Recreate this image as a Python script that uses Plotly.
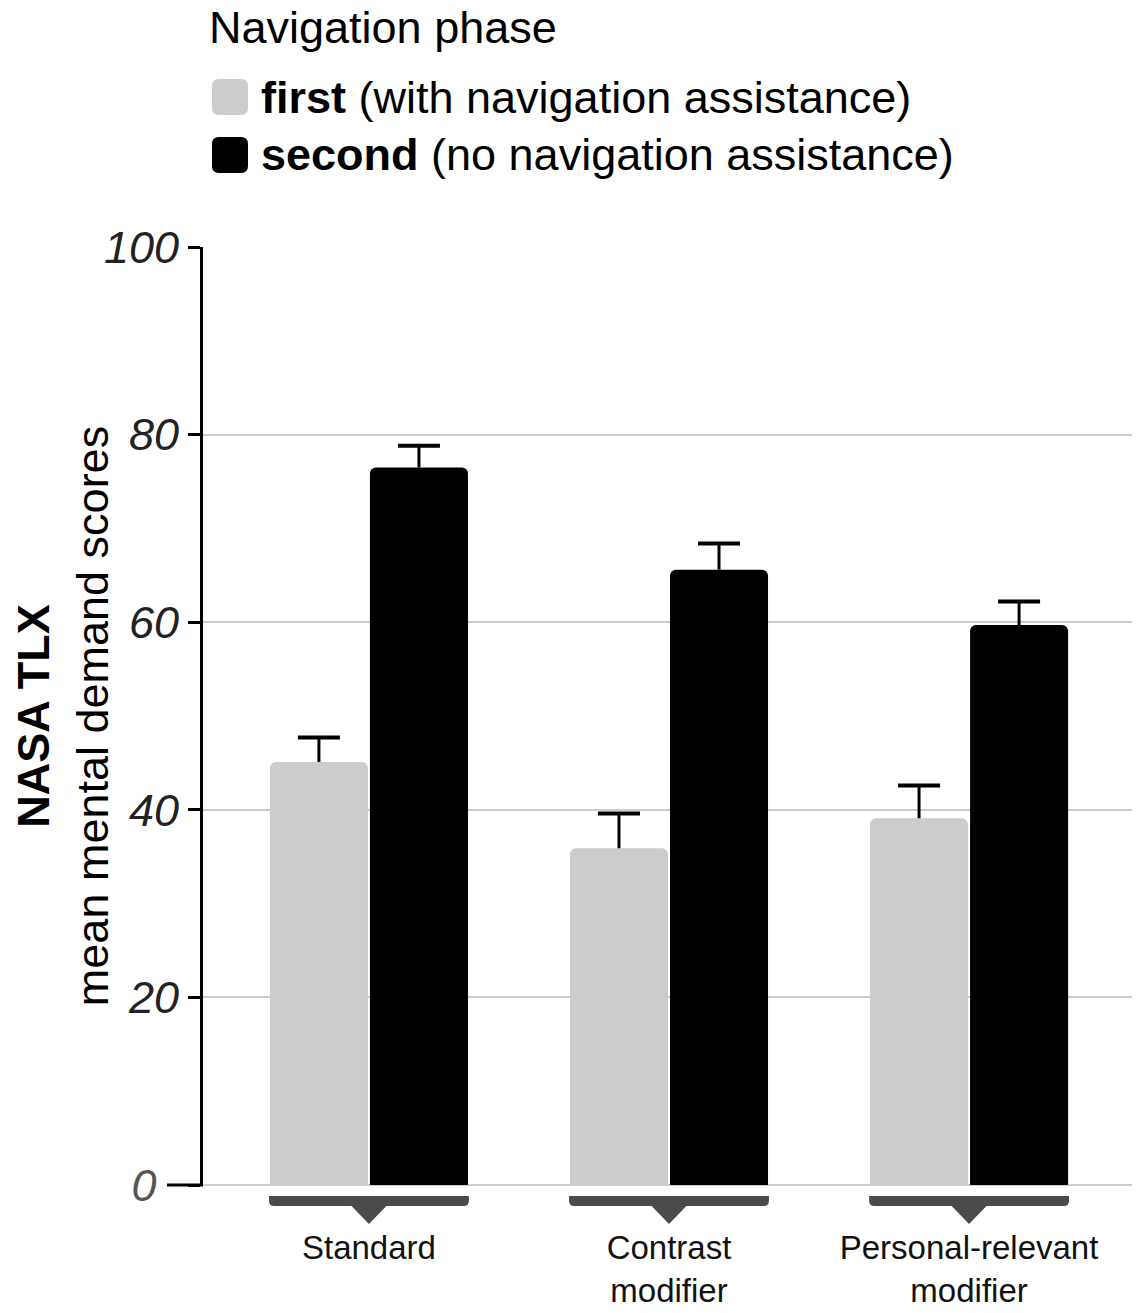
import plotly.graph_objects as go

categories = ["Standard", "Contrast<br>modifier", "Personal-relevant<br>modifier"]
first_mean = [45.1, 35.9, 39.1]
first_err = [2.6, 3.7, 3.5]
second_mean = [76.5, 65.6, 59.7]
second_err = [2.3, 2.8, 2.5]
series_names = ["first", "second"]
series_desc = ["(with navigation assistance)", "(no navigation assistance)"]
y_ticks = [0, 20, 40, 60, 80, 100]

FONT = "Liberation Sans, Arial, Helvetica, sans-serif"
FS = 45
# page body has an 8px margin; size the figure so it fills the window exactly
OFF = 8
W, H = 1142 - 2 * OFF, 1313 - 2 * OFF
# plot area in window pixels: x 203..1132, y 247..1185
PX0, PX1, PY0, PY1 = 203, 1132, 247, 1185
ML, MT = PX0 - OFF, PY0 - OFF
MR = W - (PX1 - OFF)
MB = H - (PY1 - OFF)
PW = PX1 - PX0
PH = PY1 - PY0

def px(x, y):
    return ((x - PX0) / PW, (PY1 - y) / PH)

def rounded_rect_paper(x0, y0, x1, y1, r):
    def P(x, y):
        a, b = px(x, y)
        return f"{a:.5f},{b:.5f}"
    return (f"M {P(x0 + r, y0)} L {P(x1 - r, y0)} Q {P(x1, y0)} {P(x1, y0 + r)} "
            f"L {P(x1, y1 - r)} Q {P(x1, y1)} {P(x1 - r, y1)} "
            f"L {P(x0 + r, y1)} Q {P(x0, y1)} {P(x0, y1 - r)} "
            f"L {P(x0, y0 + r)} Q {P(x0, y0)} {P(x0 + r, y0)} Z")

colors = ["#cccccc", "#000000"]
means = [first_mean, second_mean]
errs = [first_err, second_err]

fig = go.Figure()
for k in range(2):
    fig.add_trace(go.Bar(
        x=categories, y=means[k], name=series_names[k],
        marker=dict(color=colors[k], line=dict(width=0), cornerradius=6),
        error_y=dict(type="data", array=errs[k], symmetric=False, arrayminus=[0] * len(categories),
                     color="#000000", thickness=3, width=0),
        showlegend=False, hoverinfo="skip",
    ))
# error-bar caps (top only)
for k in range(2):
    fig.add_trace(go.Scatter(
        x=categories, y=[m + e for m, e in zip(means[k], errs[k])],
        mode="markers", name=series_names[k] + " cap",
        marker=dict(symbol="line-ew", size=30, line=dict(color="#000000", width=4)),
        showlegend=False, hoverinfo="skip",
    ))

shapes = []
annotations = []

# category brackets under each group
for i in range(len(categories)):
    half = 0.333
    ya = (PY1 - 1196) / PH
    yb = (PY1 - 1206) / PH
    yt = (PY1 - 1224) / PH
    rr = 0.017
    rp = 5 / PH
    path = (f"M {i-half},{ya} L {i+half},{ya} L {i+half},{yb+rp} "
            f"Q {i+half},{yb} {i+half-rr},{yb} L {i+0.058},{yb} L {i},{yt} L {i-0.058},{yb} "
            f"L {i-half+rr},{yb} Q {i-half},{yb} {i-half},{yb+rp} Z")
    shapes.append(dict(type="path", xref="x", yref="paper", path=path,
                       fillcolor="#4a4a4a", line=dict(width=0), layer="above"))

# longer tick at zero
shapes.append(dict(type="line", xref="paper", yref="paper", x0=-36 / PW, x1=0, y0=0, y1=0,
                   line=dict(color="#000000", width=3)))

# custom legend
annotations.append(dict(text="Navigation phase", xref="paper", yref="paper",
                        x=px(207, 0)[0], y=px(0, 27)[1], xanchor="left", yanchor="middle",
                        showarrow=False, font=dict(size=FS, color="#000000", family=FONT)))
for k, yc in enumerate([97, 155]):
    shapes.append(dict(type="path", xref="paper", yref="paper",
                       path=rounded_rect_paper(212, yc - 18, 248, yc + 18, 7),
                       fillcolor=colors[k], line=dict(width=0)))
    annotations.append(dict(text=f"<b>{series_names[k]}</b> {series_desc[k]}",
                            xref="paper", yref="paper", x=px(259, 0)[0], y=px(0, yc)[1],
                            xanchor="left", yanchor="middle", showarrow=False,
                            font=dict(size=FS, color="#000000", family=FONT)))

tick_text = ["<span style='color:#555555'>0</span>\u2002"] + [str(v) for v in y_ticks[1:]]

fig.update_layout(
    width=W, height=H,
    margin=dict(l=ML, r=MR, t=MT, b=MB),
    paper_bgcolor="white", plot_bgcolor="white",
    barmode="group", bargap=1/3, bargroupgap=0.02,
    scattermode="group", scattergap=1/3,
    font=dict(family=FONT, color="#000000"),
    shapes=shapes, annotations=annotations,
    xaxis=dict(
        range=[-0.553, 2.543], showline=False, showgrid=False, zeroline=False,
        ticks="", tickfont=dict(size=33, color="#111111", family=FONT),
        ticklabelstandoff=40, automargin=False,
    ),
    yaxis=dict(
        range=[0, 100], tickvals=y_ticks, ticktext=tick_text, automargin=False,
        showline=True, linecolor="#000000", linewidth=3,
        ticks="outside", ticklen=12, tickwidth=3, tickcolor="#000000",
        showgrid=True, gridcolor="#cccccc", gridwidth=2,
        zeroline=True, zerolinecolor="#cccccc", zerolinewidth=2,
        tickfont=dict(size=FS, color="#222222", family=FONT, style="italic"),
        title=dict(text="<b>NASA TLX</b><br>mean mental demand scores",
                   font=dict(size=FS, color="#000000", family=FONT), standoff=6),
    ),
)

fig.write_html("out.html")
